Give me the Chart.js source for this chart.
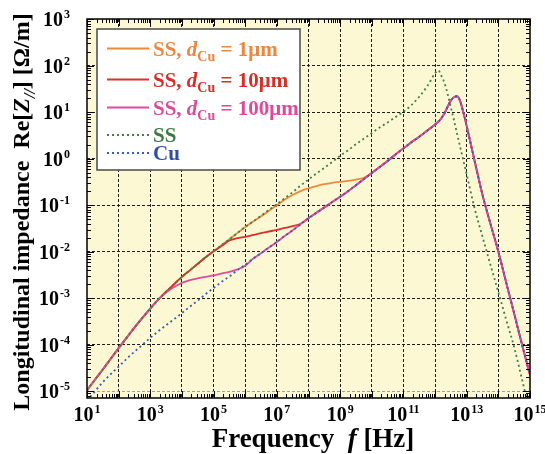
<!DOCTYPE html>
<html>
<head>
<meta charset="utf-8">
<script src="https://cdn.jsdelivr.net/npm/chart.js@4.4.1/dist/chart.umd.min.js"></script>
<style>
  html, body { margin: 0; padding: 0; background: #fff; }
</style>
</head>
<body>
<canvas id="myChart" width="545" height="454"></canvas>
<script>
const ctx = document.querySelector("#myChart").getContext("2d");

// frequency grid [Hz]
const freq = [
  1e1, 1.78e1, 3.16e1, 5.62e1, 1e2, 1.78e2, 3.16e2, 5.62e2, 1e3, 1.78e3,
  3.16e3, 5.62e3, 1e4, 1.78e4, 3.16e4, 5.62e4, 1e5, 1.78e5, 3.16e5, 5.62e5,
  1e6, 1.78e6, 3.16e6, 5.62e6, 1e7, 1.78e7, 3.16e7, 5.62e7, 1e8, 1.78e8,
  3.16e8, 5.62e8, 1e9, 1.78e9, 3.16e9, 5.62e9, 1e10, 1.78e10, 3.16e10, 5.62e10,
  1e11, 1.78e11, 3.16e11, 5.62e11, 1e12, 1.26e12, 1.58e12, 2.0e12, 2.51e12, 3.16e12,
  3.98e12, 5.01e12, 6.31e12, 7.94e12, 1e13, 1.78e13, 3.16e13, 5.62e13, 1e14, 1.78e14,
  3.16e14, 5.62e14, 1e15,
];

// Re[Z//] [Ohm/m]
const zSS = [
  1.05e-5, 1.78e-5, 2.95e-5, 5.0e-5, 8.5e-5, 1.41e-4, 2.34e-4, 3.8e-4, 6.0e-4, 9.3e-4,
  1.38e-3, 2.0e-3, 2.88e-3, 3.98e-3, 5.5e-3, 7.6e-3, 1.02e-2, 1.38e-2, 1.86e-2, 2.51e-2,
  3.4e-2, 4.47e-2, 5.9e-2, 7.9e-2, 0.105, 0.141, 0.19, 0.263, 0.355, 0.479,
  0.63, 0.85, 1.15, 1.51, 2.04, 2.69, 3.55, 4.68, 6.0, 7.8,
  10.2, 14.1, 21.4, 35.5, 68, 79, 60, 41.7, 24, 12.6,
  6.6, 3.3, 1.7, 0.87, 0.457, 0.085, 0.0209, 5.25e-3, 1.35e-3, 3.4e-4,
  8.9e-5, 1.78e-5, 3.5e-6,
];
const zCu = [
  6.3e-6, 1.0e-5, 1.58e-5, 2.34e-5, 3.4e-5, 5.0e-5, 7.1e-5, 1.0e-4, 1.41e-4, 1.95e-4,
  2.63e-4, 3.55e-4, 4.8e-4, 6.6e-4, 8.9e-4, 1.23e-3, 1.66e-3, 2.24e-3, 2.95e-3, 3.98e-3,
  5.25e-3, 7.1e-3, 9.3e-3, 1.23e-2, 1.62e-2, 2.19e-2, 2.88e-2, 3.9e-2, 5.25e-2, 6.9e-2,
  8.9e-2, 0.117, 0.151, 0.2, 0.269, 0.363, 0.49, 0.66, 0.89, 1.23,
  1.66, 2.24, 2.95, 3.98, 5.4, 6.2, 7.4, 9.5, 13.2, 17.8,
  20.9, 21.9, 16.6, 9.5, 5.0, 0.89, 0.166, 0.04, 1.0e-2, 2.14e-3,
  4.7e-4, 1.0e-4, 2.24e-5,
];
const z1um = [
  1.05e-5, 1.78e-5, 2.95e-5, 5.0e-5, 8.5e-5, 1.41e-4, 2.34e-4, 3.8e-4, 6.0e-4, 9.3e-4,
  1.38e-3, 2.0e-3, 2.88e-3, 3.98e-3, 5.5e-3, 7.6e-3, 1.02e-2, 1.38e-2, 1.86e-2, 2.51e-2,
  3.4e-2, 4.47e-2, 5.75e-2, 7.6e-2, 0.1, 0.132, 0.166, 0.2, 0.229, 0.257,
  0.282, 0.302, 0.316, 0.331, 0.355, 0.389, 0.49, 0.66, 0.89, 1.23,
  1.66, 2.24, 2.95, 3.98, 5.4, 6.2, 7.4, 9.5, 13.2, 17.8,
  20.9, 21.9, 16.6, 9.5, 5.0, 0.89, 0.166, 0.04, 1.0e-2, 2.14e-3,
  4.7e-4, 1.0e-4, 2.24e-5,
];
const z10um = [
  1.05e-5, 1.78e-5, 2.95e-5, 5.0e-5, 8.5e-5, 1.41e-4, 2.34e-4, 3.8e-4, 6.0e-4, 9.3e-4,
  1.38e-3, 2.0e-3, 2.88e-3, 3.98e-3, 5.5e-3, 7.6e-3, 1.02e-2, 1.32e-2, 1.74e-2, 1.95e-2,
  2.09e-2, 2.29e-2, 2.51e-2, 2.72e-2, 2.95e-2, 3.24e-2, 3.55e-2, 3.98e-2, 5.25e-2, 6.9e-2,
  8.9e-2, 0.117, 0.151, 0.2, 0.269, 0.363, 0.49, 0.66, 0.89, 1.23,
  1.66, 2.24, 2.95, 3.98, 5.4, 6.2, 7.4, 9.5, 13.2, 17.8,
  20.9, 21.9, 16.6, 9.5, 5.0, 0.89, 0.166, 0.04, 1.0e-2, 2.14e-3,
  4.7e-4, 1.0e-4, 2.24e-5,
];
const z100um = [
  1.05e-5, 1.78e-5, 2.95e-5, 5.0e-5, 8.5e-5, 1.41e-4, 2.34e-4, 3.8e-4, 6.0e-4, 9.3e-4,
  1.32e-3, 1.74e-3, 2.14e-3, 2.45e-3, 2.69e-3, 2.88e-3, 3.1e-3, 3.4e-3, 3.7e-3, 4.17e-3,
  5.0e-3, 7.1e-3, 9.3e-3, 1.23e-2, 1.62e-2, 2.19e-2, 2.88e-2, 3.9e-2, 5.25e-2, 6.9e-2,
  8.9e-2, 0.117, 0.151, 0.2, 0.269, 0.363, 0.49, 0.66, 0.89, 1.23,
  1.66, 2.24, 2.95, 3.98, 5.4, 6.2, 7.4, 9.5, 13.2, 17.8,
  20.9, 21.9, 16.6, 9.5, 5.0, 0.89, 0.166, 0.04, 1.0e-2, 2.14e-3,
  4.7e-4, 1.0e-4, 2.24e-5,
];

// tick labels (powers of ten)
const xLabelExps = [1, 3, 5, 7, 9, 11, 13, 15];
const yLabelExps = [-5, -4, -3, -2, -1, 0, 1, 2, 3];

// legend text pieces: b = bold, bi = bold italic, sub = subscript
const legendText = [
  [["SS, ", "b"], ["d", "bi"], ["Cu", "sub"], [" = 1\u03bcm", "b"]],
  [["SS, ", "b"], ["d", "bi"], ["Cu", "sub"], [" = 10\u03bcm", "b"]],
  [["SS, ", "b"], ["d", "bi"], ["Cu", "sub"], [" = 100\u03bcm", "b"]],
  [["SS", "b"]],
  [["Cu", "b"]],
];

const SERIF = "'Liberation Serif', 'Times New Roman', serif";
const pts = (vals) => vals.map((v, i) => ({ x: freq[i], y: v }));

const lineColors = ["#ee8a3a", "#d8322b", "#e04b9c", "#3f7d49", "#3b5cb0"];
const textColors = ["#ea8841", "#d3302a", "#de4a9a", "#3d7a48", "#2f4fa5"];

function logTicks(lo, hi) {
  const t = [];
  for (let e = Math.floor(Math.log10(lo)); e <= Math.ceil(Math.log10(hi)); e++) {
    for (let m = 1; m <= 9; m++) {
      const v = m * Math.pow(10, e);
      if (v >= lo * 0.999 && v <= hi * 1.001) t.push({ value: v, major: m === 1 });
    }
  }
  return t;
}

function gridColor(c) {
  if (!c.tick || !c.tick.major) return "rgba(0,0,0,0)";
  const e = Math.round(Math.log10(c.tick.value));
  if (c.scale.axis === "x" && (e <= 1 || e >= 15)) return "rgba(0,0,0,0)";
  if (c.scale.axis === "y" && e >= 3) return "rgba(0,0,0,0)";
  if (c.scale.axis === "y" && e === -5) return "#a0a0a0";
  return "#1e1e1e";
}

function drawRich(c, parts, x, y, size, color) {
  let cx = x;
  c.fillStyle = color;
  c.textBaseline = "alphabetic";
  c.textAlign = "left";
  for (const [txt, st] of parts) {
    let dy = 0;
    if (st === "b") c.font = "bold " + size + "px " + SERIF;
    else if (st === "bi") c.font = "italic bold " + size + "px " + SERIF;
    else if (st === "sub") { c.font = "bold " + Math.round(size * 0.68) + "px " + SERIF; dy = size * 0.25; }
    else if (st === "subi") { c.font = "italic bold " + Math.round(size * 0.68) + "px " + SERIF; dy = size * 0.25; }
    c.fillText(txt, cx, y + dy);
    cx += c.measureText(txt).width;
  }
  return cx - x;
}

function richWidth(c, parts, size) {
  c.save();
  c.globalAlpha = 0;
  const w = drawRich(c, parts, 0, 0, size, "#000");
  c.restore();
  return w;
}

function drawPower(c, e, x, y, align) {
  const sup = String(e);
  c.font = "bold 20px " + SERIF;
  const wb = c.measureText("10").width;
  c.font = "bold 12px " + SERIF;
  const ws = c.measureText(sup).width;
  const total = wb + 1 + ws;
  const x0 = align === "center" ? x - total / 2 : x - total;
  c.fillStyle = "#000";
  c.textAlign = "left";
  c.textBaseline = "alphabetic";
  c.font = "bold 20px " + SERIF;
  c.fillText("10", x0, y);
  c.font = "bold 12px " + SERIF;
  c.fillText(sup, x0 + wb + 1, y - 8);
}

const decor = {
  id: "decor",
  beforeDraw(chart) {
    const a = chart.chartArea;
    const c = chart.ctx;
    c.save();
    c.fillStyle = "#fbf8d3";
    c.fillRect(a.left, a.top, a.right - a.left, a.bottom - a.top);
    c.restore();
  },
  afterDraw(chart) {
    const a = chart.chartArea;
    const c = chart.ctx;
    const xs = chart.scales.x;
    const ys = chart.scales.y;
    c.save();

    // inward tick marks on all four sides
    c.strokeStyle = "#000";
    c.lineWidth = 1;
    c.beginPath();
    for (const t of xs.ticks) {
      const px = Math.round(xs.getPixelForValue(t.value)) + 0.5;
      const len = t.major ? 7 : 4;
      c.moveTo(px, a.bottom); c.lineTo(px, a.bottom - len);
      c.moveTo(px, a.top); c.lineTo(px, a.top + len);
    }
    for (const t of ys.ticks) {
      const py = Math.round(ys.getPixelForValue(t.value)) + 0.5;
      const len = t.major ? 7 : 4;
      c.moveTo(a.left, py); c.lineTo(a.left + len, py);
      c.moveTo(a.right, py); c.lineTo(a.right - len, py);
    }
    c.stroke();

    // frame
    c.lineWidth = 1.5;
    c.strokeRect(a.left, a.top, a.right - a.left, a.bottom - a.top);

    // tick labels
    for (const e of xLabelExps) drawPower(c, e, xs.getPixelForValue(Math.pow(10, e)), a.bottom + 23, "center");
    for (const e of yLabelExps) drawPower(c, e, a.left - 17, ys.getPixelForValue(Math.pow(10, e)) + 7, "right");

    // axis titles
    const xt = [["Frequency  ", "b"], ["f", "bi"], [" [Hz]", "b"]];
    const xw = richWidth(c, xt, 27);
    drawRich(c, xt, 313 - xw / 2, 447, 27, "#000");

    const yt = [["Longitudinal impedance  Re[", "b"], ["Z", "bi"], ["//", "subi"], ["] [\u03a9/m]", "b"]];
    const yw = richWidth(c, yt, 24);
    c.save();
    c.translate(29, 212);
    c.rotate(-Math.PI / 2);
    drawRich(c, yt, -yw / 2, 0, 24, "#000");
    c.restore();

    // legend
    const bx = 97, by = 29, bw = 203, bh = 141;
    c.fillStyle = "#fff";
    c.fillRect(bx, by, bw, bh);
    c.strokeStyle = "#4a4a4a";
    c.lineWidth = 1.5;
    c.strokeRect(bx, by, bw, bh);
    const rows = [48.5, 79.5, 107.5, 135, 153];
    chart.data.datasets.forEach((ds) => {
      const k = ds.legendIndex;
      const y = rows[k];
      c.strokeStyle = ds.borderColor;
      c.lineWidth = ds.borderWidth;
      c.setLineDash(ds.borderDash || []);
      c.beginPath();
      c.moveTo(107, y);
      c.lineTo(149, y);
      c.stroke();
      c.setLineDash([]);
      drawRich(c, legendText[k], 153, y + 7, 21, textColors[k]);
    });
    c.restore();
  },
};

const base = { pointRadius: 0, borderWidth: 1.8, fill: false, cubicInterpolationMode: "monotone" };

const data = {
  datasets: [
    { ...base, label: "SS, dCu = 1um", data: pts(z1um), borderColor: lineColors[0], order: 5, legendIndex: 0 },
    { ...base, label: "SS, dCu = 10um", data: pts(z10um), borderColor: lineColors[1], order: 4, legendIndex: 1 },
    { ...base, label: "SS, dCu = 100um", data: pts(z100um), borderColor: lineColors[2], order: 3, legendIndex: 2 },
    { ...base, label: "SS", data: pts(zSS), borderColor: lineColors[3], borderDash: [2, 3], order: 2, legendIndex: 3 },
    { ...base, label: "Cu", data: pts(zCu), borderColor: lineColors[4], borderDash: [2, 3], order: 1, legendIndex: 4 },
  ],
};

const config = {
  type: "line",
  data: data,
  plugins: [decor],
  options: {
    responsive: false,
    animation: false,
    events: [],
    layout: { padding: { left: 87, right: 15, top: 19, bottom: 56 } },
    plugins: { legend: { display: false }, tooltip: { enabled: false } },
    scales: {
      x: {
        type: "logarithmic",
        min: 1e1,
        max: 1e15,
        afterBuildTicks: (s) => { s.ticks = logTicks(s.min, s.max); },
        afterFit: (s) => { s.height = 0; },
        ticks: { display: false },
        grid: { drawTicks: false, color: gridColor, lineWidth: 1 },
        border: { display: false, dash: [3, 2] },
      },
      y: {
        type: "logarithmic",
        min: 7.2e-6,
        max: 1e3,
        afterBuildTicks: (s) => { s.ticks = logTicks(s.min, s.max); },
        afterFit: (s) => { s.width = 0; },
        ticks: { display: false },
        grid: { drawTicks: false, color: gridColor, lineWidth: 1 },
        border: { display: false, dash: [3, 2] },
      },
    },
  },
};

const myChart = new Chart(ctx, config);
</script>
</body>
</html>
